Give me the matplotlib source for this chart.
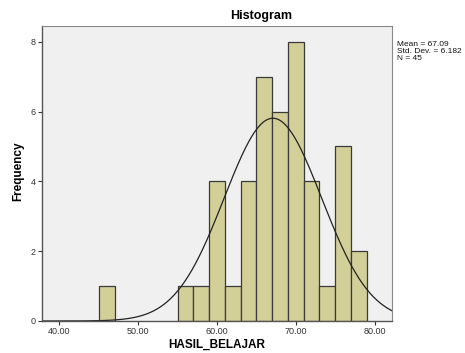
import numpy as np
import matplotlib
matplotlib.use("Agg")
import matplotlib.pyplot as plt

bin_lefts = [45, 55, 57, 59, 61, 63, 65, 67, 69, 71, 73, 75, 77]
counts = [1, 1, 1, 4, 1, 4, 7, 6, 8, 4, 1, 5, 2]
bin_width = 2
mean, sd, n = 67.09, 6.182, 45
xticks = [40, 50, 60, 70, 80]
xtick_labels = ["40.00", "50.00", "60.00", "70.00", "80.00"]
yticks = [0, 2, 4, 6, 8]

plt.rcParams['font.family'] = ['Liberation Sans', 'DejaVu Sans']
fig = plt.figure(figsize=(4.65, 3.53), dpi=100)
ax = fig.add_axes([42/465, 1-321/353, 350/465, 295/353])
ax.set_facecolor('#F0F0F0')
ax.bar(bin_lefts, counts, width=bin_width, align='edge', color='#D3CF98',
       edgecolor='#3A3A3A', linewidth=0.9)
xs = np.linspace(37.8, 82.2, 400)
ys = n * bin_width / (sd * np.sqrt(2*np.pi)) * np.exp(-0.5*((xs-mean)/sd)**2)
ax.plot(xs, ys, color='#222222', linewidth=0.9)
ax.set_xlim(37.8, 82.2)
ax.set_ylim(0, 8.45)
ax.set_xticks(xticks)
ax.set_xticklabels(xtick_labels)
ax.set_yticks(yticks)
ax.tick_params(axis='both', labelsize=6.5, colors='#333333', length=3, width=0.8, direction='out', pad=1.5)
for s in ['top', 'right']:
    ax.spines[s].set_color('#888888')
    ax.spines[s].set_linewidth(0.8)
for s in ['left', 'bottom']:
    ax.spines[s].set_color('#555555')
    ax.spines[s].set_linewidth(1.0)
fig.text(217/465, 1-345/353, 'HASIL_BELAJAR', ha='center', va='center', fontsize=8.5, fontweight='bold')
fig.text(18/465, 1-171/353, 'Frequency', ha='center', va='center', rotation=90, fontsize=8.5, fontweight='bold')
fig.text(261/465, 1-16/353, 'Histogram', ha='center', va='center', fontsize=9, fontweight='bold')
fig.text(397/465, 1-41/353, 'Mean = 67.09\nStd. Dev. = 6.182\nN = 45', ha='left', va='top',
         fontsize=6, linespacing=0.95, color='#111111')
fig.savefig('out.png', dpi=100)
